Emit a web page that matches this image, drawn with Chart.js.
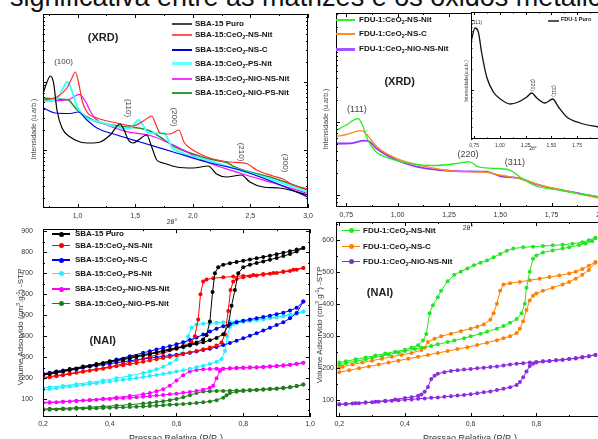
<!DOCTYPE html>
<html lang="pt">
<head>
<meta charset="utf-8">
<title>XRD e NAI</title>
<script src="https://cdn.jsdelivr.net/npm/chart.js@4.4.1/dist/chart.umd.min.js"></script>
<style>
  html, body { margin: 0; padding: 0; background: #fff; overflow: hidden; }
  #quadro { position: relative; width: 598px; height: 439px; overflow: hidden; background: #fff;
            font-family: "Liberation Sans", Arial, sans-serif; color: #222; }
  #quadro canvas { position: absolute; }
  .txt { position: absolute; white-space: nowrap; line-height: 1; }
  .rot { transform: translate(-50%, -50%) rotate(-90deg); }
  .cen { transform: translate(-50%, 0); }
  .leg { position: absolute; font-weight: bold; font-size: 8px; white-space: nowrap; line-height: 1; color: #111; }
  sub { font-size: 5px; vertical-align: -2px; line-height: 0; }
  sup { font-size: 5px; vertical-align: 3px; line-height: 0; }
</style>
</head>
<body>
<div id="quadro">
  <div class="txt" style="left:10px; top:-16px; font-size:27px; color:#111;">significativa entre as matrizes e os óxidos metálicos</div>
  <canvas id="xrdSba" width="322" height="230" style="left:0;top:0"></canvas>
  <canvas id="xrdFdu" width="320" height="230" style="left:300px;top:0"></canvas>
  <canvas id="naiSba" width="322" height="224" style="left:0;top:215px"></canvas>
  <canvas id="naiFdu" width="320" height="224" style="left:300px;top:215px"></canvas>
  <canvas id="inset" width="180" height="160" style="left:440px;top:0"></canvas>

  <div class="txt rot" style="left:33px; top:129px; font-size:7px; color:#444;">Intensidade (u.arb.)</div>
  <div class="txt rot" style="left:325px; top:119px; font-size:7px; color:#444;">Intensidade (u.arb.)</div>
  <div class="txt rot" style="left:466px; top:81px; font-size:5px; color:#444;">Intensidade(u.a.b.)</div>
  <div class="txt rot" style="left:21px; top:327px; font-size:8px; color:#333;">Volume Adsorvido (cm<sup>3</sup>.g<sup>-1</sup>) -STP</div>
  <div class="txt rot" style="left:320px; top:325px; font-size:8px; color:#333;">Volume Adsorvido (cm<sup>3</sup>.g<sup>-1</sup>) -STP</div>
  <div class="txt cen" style="left:176px; top:434px; font-size:9px; color:#333;">Pressao Relativa (P/P<sub>0</sub>)</div>
  <div class="txt cen" style="left:470px; top:434px; font-size:9px; color:#333;">Pressao Relativa (P/P<sub>0</sub>)</div>
  <div class="txt cen" style="left:172px; top:218px; font-size:7px; color:#333;">2θ°</div>
  <div class="txt cen" style="left:468px; top:224px; font-size:7px; color:#333;">2θ°</div>
  <div class="txt cen" style="left:533px; top:146px; font-size:5px; color:#333;">2θ°</div>
</div>

<script>
// ================= DADOS =================

const nomesSba = ["SBA-15 Puro", "SBA-15:CeO2-NS-Nit", "SBA-15:CeO2-NS-C",
                  "SBA-15:CeO2-PS-Nit", "SBA-15:CeO2-NiO-NS-Nit", "SBA-15:CeO2-NiO-PS-Nit"];
const nomesFdu = ["FDU-1:CeO2-NS-Nit", "FDU-1:CeO2-NS-C", "FDU-1:CeO2-NiO-NS-Nit"];
const nomeInset = "FDU-1 Puro";

// XRD: [2θ, intensidade (u.arb.)]
const xrdSbaPuro = [[0.705,116],[0.735,126],[0.763,132],[0.792,125],[0.821,98],[0.865,80],[0.936,71],[1.023,66],
  [1.110,65],[1.196,66],[1.283,73],[1.369,84],[1.404,78],[1.441,68],[1.484,65],[1.528,68],[1.600,73],[1.644,61],
  [1.687,48],[1.744,45],[1.860,41],[2.004,40],[2.134,42],[2.206,34],[2.293,31],[2.423,33],[2.495,26],[2.610,21],
  [2.754,20],[3.000,13]];
const xrdSbaNsNit = [[0.705,108],[0.821,111],[0.908,120],[0.951,130],[0.980,136],[1.008,126],[1.038,108],[1.081,96],
  [1.168,90],[1.341,85],[1.484,82],[1.571,87],[1.644,92],[1.681,83],[1.716,75],[1.802,74],[1.880,78],[1.923,66],
  [2.001,58],[2.122,51],[2.322,46],[2.466,44.5],[2.553,38],[2.697,32],[2.783,29],[2.870,23],[3.000,19]];
const xrdSbaNsC = [[0.705,100],[0.807,95],[0.936,94.5],[1.006,96],[1.081,88],[1.168,80],[1.341,73],[1.542,66],
  [1.831,56],[2.120,46],[2.408,38],[2.697,26],[3.000,11]];
const xrdSbaPsNit = [[0.705,107],[0.821,109],[0.867,118],[0.908,126],[0.928,124],[0.954,116],[0.994,102],[1.081,90],
  [1.196,86],[1.341,81],[1.456,79.5],[1.499,85],[1.528,88],[1.571,82],[1.614,75],[1.716,74.7],[1.750,74.7],
  [1.817,61],[1.917,54.7],[2.120,48],[2.408,38],[2.697,28],[3.000,16]];
const xrdSbaNiONs = [[0.705,107],[0.850,107.5],[0.936,109],[0.980,112],[1.014,113.7],[1.066,107],[1.110,97],
  [1.153,89.5],[1.254,83],[1.427,76.3],[1.629,72.5],[1.831,63],[2.120,46],[2.408,35],[2.697,25],[3.000,14.7]];
const xrdSbaNiOPs = [[0.705,110],[0.850,108.7],[0.922,108],[0.954,104],[0.997,98],[1.084,91],[1.168,86.3],
  [1.398,81.3],[1.542,79.7],[1.629,77],[1.716,71],[1.831,62],[2.120,49.7],[2.304,45],[2.365,41],[2.697,30],[3.000,18]];

const xrdFduNsNit = [[0.698,76.3],[0.750,82],[0.807,88.5],[0.831,81],[0.855,67],[0.896,55],[0.961,48.7],[1.059,43.7],
  [1.172,41.5],[1.270,43],[1.335,45],[1.351,45.2],[1.390,40.3],[1.465,38.7],[1.537,37.5],[1.563,35],[1.610,28],
  [1.673,21],[1.790,16.7],[1.888,13],[2.000,10]];
const xrdFduNsC = [[0.698,70.3],[0.750,72.5],[0.823,76.3],[0.848,73],[0.872,67],[0.903,59.5],[0.994,48.7],
  [1.156,39.7],[1.319,35.3],[1.416,35],[1.498,32],[1.611,27.5],[1.709,21],[1.839,15.3],[2.000,8]];
const xrdFduNiONs = [[0.698,63.5],[0.766,63.7],[0.839,66.3],[0.864,65.3],[0.896,58.7],[0.994,47],[1.091,40.3],
  [1.205,37],[1.319,35.7],[1.433,35.3],[1.498,31],[1.595,28.7],[1.676,22.7],[1.839,15.3],[2.000,9]];
const xrdFduPuro = [[0.720,97],[0.759,111],[0.791,107],[0.824,86],[0.872,62],[0.937,47],[1.018,39],[1.099,35],
  [1.179,37],[1.261,42],[1.309,46],[1.358,41],[1.438,36],[1.513,40],[1.568,32],[1.649,22],[1.778,16],[1.953,12],[2.000,11]];

// NAI: [P/P0, volume adsorvido (cm3/g STP)] — adsorção e dessorção
const naiSbaPuroAds = [[0.20,215],[0.22,221],[0.24,227],[0.26,234],[0.28,240],[0.30,246],[0.32,252],[0.34,258],
  [0.36,264],[0.38,270],[0.40,277],[0.42,283],[0.44,289],[0.46,295],[0.48,302],[0.50,308],[0.52,314],[0.54,321],
  [0.56,328],[0.58,335],[0.60,342],[0.62,349],[0.64,356],[0.66,364],[0.68,372],[0.70,381],[0.72,392],[0.74,410],
  [0.755,450],[0.765,545],[0.775,620],[0.785,700],[0.80,728],[0.82,740],[0.84,748],[0.86,756],[0.88,764],[0.90,772],
  [0.92,781],[0.94,791],[0.96,803],[0.98,820]];
const naiSbaPuroDes = [[0.98,820],[0.96,812],[0.94,804],[0.92,797],[0.90,790],[0.88,783],[0.86,777],[0.84,771],
  [0.82,765],[0.80,759],[0.78,753],[0.76,747],[0.74,740],[0.725,728],[0.715,700],[0.708,610],[0.70,470],[0.69,405],
  [0.68,385],[0.66,370],[0.64,360],[0.62,352],[0.60,346],[0.56,332],[0.52,318],[0.48,306],[0.44,293],[0.40,281],
  [0.36,268],[0.32,256],[0.28,244],[0.24,231],[0.20,219]];
const naiSbaNsNitAds = [[0.20,200],[0.22,205],[0.24,210],[0.26,215],[0.28,220],[0.30,226],[0.32,231],[0.34,236],
  [0.36,241],[0.38,246],[0.40,252],[0.42,257],[0.44,262],[0.46,268],[0.48,273],[0.50,279],[0.52,285],[0.54,291],
  [0.56,297],[0.58,303],[0.60,309],[0.62,316],[0.64,323],[0.66,330],[0.68,338],[0.70,346],[0.72,356],[0.735,370],
  [0.745,410],[0.755,520],[0.762,620],[0.77,660],[0.78,672],[0.80,680],[0.82,685],[0.84,689],[0.86,693],[0.88,697],
  [0.90,701],[0.92,705],[0.94,710],[0.96,716],[0.98,725]];
const naiSbaNsNitDes = [[0.98,725],[0.95,716],[0.92,708],[0.89,701],[0.86,696],[0.83,691],[0.80,687],[0.77,684],
  [0.74,680],[0.71,676],[0.69,670],[0.68,660],[0.672,600],[0.665,480],[0.655,400],[0.645,372],[0.62,352],[0.60,340],
  [0.56,320],[0.52,302],[0.48,284],[0.44,268],[0.40,255],[0.36,243],[0.32,233],[0.28,223],[0.24,213],[0.20,203]];
const naiSbaNsCAds = [[0.20,222],[0.22,227],[0.24,232],[0.26,237],[0.28,242],[0.30,247],[0.32,252],[0.34,256],
  [0.36,261],[0.38,265],[0.40,270],[0.42,274],[0.44,279],[0.46,283],[0.48,288],[0.50,292],[0.52,296],[0.54,300],
  [0.56,304],[0.58,308],[0.60,312],[0.62,317],[0.64,322],[0.66,328],[0.68,334],[0.70,341],[0.72,349],[0.74,358],
  [0.76,368],[0.78,379],[0.80,390],[0.82,402],[0.84,414],[0.86,427],[0.88,440],[0.90,453],[0.92,467],[0.94,485],
  [0.96,510],[0.98,565]];
const naiSbaNsCDes = [[0.98,565],[0.96,535],[0.94,522],[0.92,512],[0.90,505],[0.88,498],[0.86,492],[0.84,486],
  [0.82,480],[0.80,474],[0.78,467],[0.76,458],[0.74,448],[0.72,436],[0.70,422],[0.68,408],[0.66,394],[0.64,382],
  [0.62,371],[0.60,362],[0.58,353],[0.56,345],[0.54,337],[0.52,329],[0.50,321],[0.46,305],[0.42,289],[0.38,273],
  [0.34,257],[0.30,243],[0.26,231],[0.22,221],[0.20,216]];
const naiSbaPsNitAds = [[0.20,145],[0.22,149],[0.24,153],[0.26,157],[0.28,161],[0.30,165],[0.32,169],[0.34,173],
  [0.36,177],[0.38,181],[0.40,185],[0.42,189],[0.44,193],[0.46,197],[0.48,201],[0.50,206],[0.52,211],[0.54,216],
  [0.56,221],[0.58,226],[0.60,232],[0.62,238],[0.64,245],[0.66,252],[0.68,260],[0.70,268],[0.72,278],[0.735,292],
  [0.745,330],[0.752,400],[0.76,445],[0.77,458],[0.78,463],[0.80,468],[0.82,472],[0.84,476],[0.86,480],[0.88,485],
  [0.90,489],[0.92,494],[0.94,500],[0.96,507],[0.98,516]];
const naiSbaPsNitDes = [[0.98,518],[0.96,510],[0.94,503],[0.92,497],[0.90,492],[0.88,488],[0.86,484],[0.84,480],
  [0.82,477],[0.80,474],[0.78,471],[0.76,468],[0.74,466],[0.72,464],[0.70,462],[0.68,460],[0.66,456],[0.645,440],
  [0.635,400],[0.625,350],[0.615,315],[0.60,290],[0.58,270],[0.56,255],[0.54,243],[0.52,233],[0.50,225],[0.46,212],
  [0.42,200],[0.38,190],[0.34,180],[0.30,172],[0.26,164],[0.22,158],[0.20,155]];
const naiSbaNiONsAds = [[0.20,82],[0.22,84],[0.24,86],[0.26,88],[0.28,90],[0.30,92],[0.32,94],[0.34,96],[0.36,98],
  [0.38,100],[0.40,102],[0.42,104],[0.44,106],[0.46,108],[0.48,110],[0.50,112],[0.52,115],[0.54,118],[0.56,121],
  [0.58,124],[0.60,127],[0.62,131],[0.64,135],[0.66,140],[0.68,146],[0.70,155],[0.71,165],[0.72,200],[0.73,235],
  [0.74,245],[0.76,248],[0.78,250],[0.80,251],[0.82,252],[0.84,253],[0.86,255],[0.88,257],[0.90,259],[0.92,262],
  [0.94,265],[0.96,269],[0.98,274]];
const naiSbaNiONsDes = [[0.98,274],[0.96,268],[0.94,264],[0.92,260],[0.90,257],[0.88,255],[0.86,253],[0.84,251],
  [0.82,250],[0.80,249],[0.78,248],[0.76,247],[0.74,246],[0.72,245],[0.70,244],[0.68,243],[0.66,240],[0.64,232],
  [0.62,215],[0.60,190],[0.58,165],[0.56,148],[0.54,138],[0.52,130],[0.50,124],[0.46,116],[0.42,109],[0.38,103],
  [0.34,97],[0.30,93],[0.26,89],[0.22,86],[0.20,85]];
const naiSbaNiOPsAds = [[0.20,50],[0.22,51],[0.24,52],[0.26,53],[0.28,54],[0.30,55],[0.32,56],[0.34,57],[0.36,58],
  [0.38,59],[0.40,60],[0.42,61],[0.44,62],[0.46,63],[0.48,65],[0.50,66],[0.52,68],[0.54,70],[0.56,72],[0.58,74],
  [0.60,76],[0.62,78],[0.64,80],[0.66,83],[0.68,86],[0.70,90],[0.72,96],[0.74,108],[0.75,120],[0.76,130],[0.78,136],
  [0.80,140],[0.82,142],[0.84,144],[0.86,146],[0.88,148],[0.90,150],[0.92,153],[0.94,157],[0.96,163],[0.98,170]];
const naiSbaNiOPsDes = [[0.98,170],[0.96,163],[0.94,158],[0.92,155],[0.90,152],[0.88,150],[0.86,148],[0.84,146],
  [0.82,144],[0.80,143],[0.78,142],[0.76,141],[0.74,140],[0.72,140],[0.70,139],[0.68,137],[0.66,130],[0.64,120],
  [0.62,110],[0.60,102],[0.58,96],[0.56,91],[0.54,87],[0.52,83],[0.50,80],[0.46,75],[0.42,70],[0.38,66],[0.34,63],
  [0.30,60],[0.26,57],[0.22,55],[0.20,54]];

const naiFduNsNitAds = [[0.20,210],[0.22,214],[0.25,220],[0.28,226],[0.30,230],[0.33,236],[0.35,241],[0.38,247],
  [0.40,252],[0.43,258],[0.45,262],[0.48,268],[0.50,273],[0.53,280],[0.55,285],[0.58,292],[0.60,298],[0.63,306],
  [0.65,312],[0.68,322],[0.70,330],[0.72,340],[0.74,352],[0.755,370],[0.765,400],[0.77,450],[0.78,500],[0.79,540],
  [0.80,550],[0.82,560],[0.85,566],[0.88,572],[0.90,576],[0.93,583],[0.95,588],[0.97,595],[0.98,605]];
const naiFduNsNitDes = [[0.98,605],[0.96,598],[0.94,592],[0.91,587],[0.88,584],[0.85,582],[0.82,580],[0.79,578],
  [0.76,576],[0.73,572],[0.71,565],[0.69,555],[0.67,545],[0.65,535],[0.63,528],[0.61,520],[0.59,510],[0.57,500],
  [0.55,490],[0.53,470],[0.51,440],[0.50,420],[0.485,395],[0.475,370],[0.465,305],[0.455,285],[0.44,270],[0.42,262],
  [0.40,256],[0.37,250],[0.34,244],[0.31,238],[0.28,232],[0.25,226],[0.22,220],[0.20,216]];
const naiFduNsCAds = [[0.20,186],[0.23,192],[0.26,198],[0.29,204],[0.32,210],[0.35,216],[0.38,222],[0.41,228],
  [0.44,234],[0.47,240],[0.50,246],[0.53,252],[0.56,258],[0.59,264],[0.62,271],[0.65,278],[0.68,286],[0.70,292],
  [0.72,298],[0.74,308],[0.75,322],[0.76,345],[0.77,380],[0.78,410],[0.79,425],[0.80,432],[0.82,440],[0.85,450],
  [0.88,460],[0.90,468],[0.92,478],[0.94,490],[0.96,505],[0.98,528]];
const naiFduNsCDes = [[0.98,530],[0.96,518],[0.94,508],[0.92,500],[0.90,494],[0.87,488],[0.84,483],[0.81,478],
  [0.78,473],[0.75,468],[0.72,464],[0.70,460],[0.69,440],[0.68,400],[0.67,370],[0.66,350],[0.64,335],[0.62,328],
  [0.60,322],[0.57,314],[0.54,306],[0.51,298],[0.49,290],[0.47,280],[0.46,262],[0.45,255],[0.42,246],[0.39,240],
  [0.36,234],[0.33,228],[0.30,222],[0.27,216],[0.24,210],[0.21,203],[0.20,200]];
const naiFduNiONsAds = [[0.20,85],[0.22,86],[0.24,88],[0.26,89],[0.28,91],[0.30,92],[0.32,94],[0.34,95],[0.36,97],
  [0.38,98],[0.40,100],[0.42,101],[0.44,103],[0.46,104],[0.48,106],[0.50,107],[0.52,109],[0.54,111],[0.56,113],
  [0.58,115],[0.60,117],[0.62,120],[0.64,123],[0.66,126],[0.68,130],[0.70,134],[0.72,139],[0.74,146],[0.75,155],
  [0.76,170],[0.77,188],[0.78,205],[0.79,212],[0.80,216],[0.82,219],[0.84,221],[0.86,223],[0.88,225],[0.90,227],
  [0.92,230],[0.94,233],[0.96,236],[0.98,240]];
const naiFduNiONsDes = [[0.98,240],[0.96,236],[0.94,232],[0.92,229],[0.90,227],[0.88,225],[0.86,223],[0.84,221],
  [0.82,220],[0.80,218],[0.78,216],[0.76,214],[0.74,212],[0.72,210],[0.70,207],[0.68,204],[0.66,202],[0.64,200],
  [0.62,198],[0.60,196],[0.58,194],[0.56,192],[0.54,190],[0.52,186],[0.50,181],[0.49,175],[0.48,165],[0.47,140],
  [0.46,125],[0.45,116],[0.44,112],[0.42,108],[0.40,105],[0.37,101],[0.34,97],[0.31,94],[0.28,91],[0.25,89],
  [0.22,87],[0.20,86]];

// marcas dos eixos
const ticksXrdSbaX = [1.0, 1.5, 2.0, 2.5, 3.0];
const ticksXrdFduX = [0.75, 1.0, 1.25, 1.5, 1.75, 2.0];
const ticksNaiX = [0.2, 0.4, 0.6, 0.8, 1.0];
const ticksNaiSbaY = [100, 200, 300, 400, 500, 600, 700, 800, 900];
const ticksNaiFduY = [100, 200, 300, 400, 500, 600];

// ================= ESTILO =================

Chart.defaults.font.family = "'Liberation Sans', Arial, sans-serif";
Chart.defaults.color = "#333";

const coresXrdSba = ["#000000", "#ff2a2a", "#0000e6", "#40ffff", "#ff00ff", "#2e8b2e"];
const largXrdSba = [1.2, 1.2, 1.2, 2, 1.2, 1.5];
const coresXrdFdu = ["#22ee22", "#ff8c1a", "#9933ff"];
const largXrdFdu = [1.3, 1.3, 1.8];
const coresNaiSba = ["#000000", "#ff0000", "#0000ff", "#22eeff", "#ff00ff", "#1f7f1f"];
const coresNaiFdu = ["#22e622", "#ff8000", "#8a2be2"];

const virgula = (casas) => (v) => Number(v).toFixed(casas).replace(".", ",");
const pts = (arr) => arr.map(([x, y]) => ({ x, y }));
const meios = (maj) => maj.slice(0, -1).map((v, i) => (v + maj[i + 1]) / 2)
  .concat([maj[0] - (maj[1] - maj[0]) / 2, maj[maj.length - 1] + (maj[1] - maj[0]) / 2]);
const menoresLog = (maj, dec) => maj.concat([maj[maj.length - 1] + dec]).flatMap((m) =>
  [2, 3, 4, 5, 6, 7, 8, 9].map((k) => m - dec + dec * Math.log10(k)));

// moldura com marcas para dentro + anotações
const moldura = {
  id: "moldura",
  beforeDatasetsDraw(chart, args, o) {
    if (!o.fundo) return;
    const a = chart.chartArea;
    chart.ctx.save();
    chart.ctx.fillStyle = "#fff";
    chart.ctx.fillRect(a.left, a.top, a.width, a.height);
    chart.ctx.restore();
  },
  afterDatasetsDraw(chart, args, o) {
    const { ctx, chartArea: a, scales } = chart;
    const sx = scales.x, sy = scales.y;
    ctx.save();
    ctx.strokeStyle = "#000";
    ctx.lineWidth = 1;
    ctx.strokeRect(Math.round(a.left) + 0.5, Math.round(a.top) + 0.5, Math.round(a.width) - 1, Math.round(a.height) - 1);
    ctx.beginPath();
    const marcaX = (vals, len) => vals.forEach((v) => {
      if (v < sx.min || v > sx.max) return;
      const p = Math.round(sx.getPixelForValue(v)) + 0.5;
      ctx.moveTo(p, a.bottom); ctx.lineTo(p, a.bottom - len);
      ctx.moveTo(p, a.top); ctx.lineTo(p, a.top + len);
    });
    const marcaY = (vals, len) => vals.forEach((v) => {
      if (v < sy.min || v > sy.max) return;
      const p = Math.round(sy.getPixelForValue(v)) + 0.5;
      ctx.moveTo(a.left, p); ctx.lineTo(a.left + len, p);
      ctx.moveTo(a.right, p); ctx.lineTo(a.right - len, p);
    });
    marcaX(o.xMaj || [], o.tam || 4); marcaX(o.xMin || [], (o.tam || 4) / 2);
    marcaY(o.yMaj || [], o.tam || 4); marcaY(o.yMin || [], (o.tam || 4) / 2);
    ctx.stroke();
    (o.notas || []).forEach((n) => {
      ctx.save();
      ctx.translate(sx.getPixelForValue(n.x), sy.getPixelForValue(n.y));
      if (n.rot) ctx.rotate(Math.PI / 2);
      ctx.font = n.fonte;
      ctx.fillStyle = n.cor || "#444";
      ctx.textAlign = "center";
      ctx.textBaseline = "middle";
      ctx.fillText(n.t, 0, 0);
      ctx.restore();
    });
    ctx.restore();
  },
};

function eixo(e, qual) {
  return {
    type: "linear",
    min: e.min,
    max: e.max,
    grid: { display: false, drawTicks: false },
    border: { display: false },
    ticks: {
      display: !!e.fmt,
      padding: e.padding || 3,
      color: "#333",
      font: { size: e.fonte || 7 },
      callback: e.fmt || (() => ""),
    },
    afterBuildTicks: (s) => { s.ticks = e.ticks.map((value) => ({ value })); },
    afterFit: (s) => { if (qual === "x") s.height = e.tam; else s.width = e.tam; },
  };
}

function grafico(id, datasets, o) {
  return new Chart(document.getElementById(id), {
    type: "line",
    data: { datasets },
    options: {
      responsive: false,
      animation: false,
      devicePixelRatio: 1,
      layout: { padding: o.pad },
      plugins: { legend: { display: false }, tooltip: { enabled: false }, moldura: o.moldura },
      scales: { x: eixo(o.x, "x"), y: eixo(o.y, "y") },
    },
    plugins: [moldura],
  });
}

function serieXrd(label, dados, cor, larg) {
  return { label, data: pts(dados), borderColor: cor, borderWidth: larg, pointRadius: 0,
           cubicInterpolationMode: "monotone", fill: false };
}

function serieNai(label, dados, cor) {
  return { label, data: pts(dados), borderColor: cor, backgroundColor: cor, borderWidth: 1,
           pointRadius: 2, pointBorderWidth: 0, pointStyle: "circle", tension: 0, fill: false };
}

// ================= GRÁFICOS =================

const fonteNota = "8px 'Liberation Sans', Arial, sans-serif";
const fonteTitulo = "bold 11px 'Liberation Sans', Arial, sans-serif";

grafico("xrdSba",
  [xrdSbaPuro, xrdSbaNsNit, xrdSbaNsC, xrdSbaPsNit, xrdSbaNiONs, xrdSbaNiOPs]
    .map((d, i) => serieXrd(nomesSba[i], d, coresXrdSba[i], largXrdSba[i])), {
  pad: { left: 0, top: 14, right: 14, bottom: 0 },
  x: { min: 0.7, max: 3.0, ticks: ticksXrdSbaX, fmt: virgula(1), tam: 22, padding: 4 },
  y: { min: 0, max: 194, ticks: [58, 126, 194], tam: 43 },
  moldura: {
    xMaj: ticksXrdSbaX, xMin: meios(ticksXrdSbaX), yMaj: [-10, 58, 126, 194], yMin: menoresLog([-10, 58, 126], 68),
    notas: [
      { t: "(XRD)", x: 1.221, y: 170, fonte: fonteTitulo, cor: "#222" },
      { t: "(100)", x: 0.878, y: 146, fonte: fonteNota },
      { t: "(110)", x: 1.441, y: 100, fonte: fonteNota, rot: true },
      { t: "(200)", x: 1.837, y: 91, fonte: fonteNota, rot: true },
      { t: "(210)", x: 2.423, y: 56, fonte: fonteNota, rot: true },
      { t: "(300)", x: 2.798, y: 45, fonte: fonteNota, rot: true },
    ],
  },
});

grafico("xrdFdu",
  [xrdFduNsNit, xrdFduNsC, xrdFduNiONs]
    .map((d, i) => serieXrd(nomesFdu[i], d, coresXrdFdu[i], largXrdFdu[i])), {
  pad: { left: 0, top: 13, right: 17, bottom: 0 },
  x: { min: 0.7, max: 2.0, ticks: ticksXrdFduX, fmt: virgula(2), tam: 23, padding: 4 },
  y: { min: 0, max: 194, ticks: [12, 85, 158], tam: 36 },
  moldura: {
    xMaj: ticksXrdFduX, xMin: meios(ticksXrdFduX), yMaj: [12, 85, 158], yMin: menoresLog([12, 85, 158], 73),
    notas: [
      { t: "(XRD)", x: 1.010, y: 125, fonte: fonteTitulo, cor: "#222" },
      { t: "(111)", x: 0.802, y: 97, fonte: "9px 'Liberation Sans', Arial, sans-serif" },
      { t: "(220)", x: 1.343, y: 52.7, fonte: "9px 'Liberation Sans', Arial, sans-serif" },
      { t: "(311)", x: 1.571, y: 44.7, fonte: "9px 'Liberation Sans', Arial, sans-serif" },
    ],
  },
});

grafico("naiSba",
  [[naiSbaPuroAds, naiSbaPuroDes], [naiSbaNsNitAds, naiSbaNsNitDes], [naiSbaNsCAds, naiSbaNsCDes],
   [naiSbaPsNitAds, naiSbaPsNitDes], [naiSbaNiONsAds, naiSbaNiONsDes], [naiSbaNiOPsAds, naiSbaNiOPsDes]]
    .flatMap((par, i) => par.map((d) => serieNai(nomesSba[i], d, coresNaiSba[i]))), {
  pad: { left: 0, top: 7, right: 12, bottom: 0 },
  x: { min: 0.2, max: 1.0, ticks: ticksNaiX, fmt: virgula(1), tam: 22, padding: 3 },
  y: { min: 16, max: 909, ticks: ticksNaiSbaY, fmt: (v) => String(v), tam: 43, padding: 10 },
  moldura: {
    xMaj: ticksNaiX, xMin: meios(ticksNaiX), yMaj: ticksNaiSbaY, yMin: meios(ticksNaiSbaY),
    notas: [{ t: "(NAI)", x: 0.379, y: 378, fonte: fonteTitulo, cor: "#222" }],
  },
});

grafico("naiFdu",
  [[naiFduNsNitAds, naiFduNsNitDes], [naiFduNsCAds, naiFduNsCDes], [naiFduNiONsAds, naiFduNiONsDes]]
    .flatMap((par, i) => par.map((d) => serieNai(nomesFdu[i], d, coresNaiFdu[i]))), {
  pad: { left: 0, top: 7, right: 18, bottom: 0 },
  x: { min: 0.19, max: 1.0, ticks: ticksNaiX, fmt: virgula(1), tam: 22, padding: 3 },
  y: { min: 46, max: 655, ticks: ticksNaiFduY, fmt: (v) => String(v), tam: 36, padding: 2 },
  moldura: {
    xMaj: ticksNaiX, xMin: meios(ticksNaiX), yMaj: ticksNaiFduY, yMin: meios(ticksNaiFduY),
    notas: [{ t: "(NAI)", x: 0.324, y: 433, fonte: fonteTitulo, cor: "#222" }],
  },
});

grafico("inset", [serieXrd(nomeInset, xrdFduPuro, "#111", 1.3)], {
  pad: { left: 0, top: 12, right: 17, bottom: 0 },
  x: { min: 0.72, max: 2.0, ticks: ticksXrdFduX, fmt: virgula(2), tam: 21, padding: 4, fonte: 5 },
  y: { min: 0, max: 127, ticks: [49, 119], tam: 31 },
  moldura: {
    fundo: true, tam: 3,
    xMaj: ticksXrdFduX, xMin: meios(ticksXrdFduX), yMaj: [49, 119], yMin: menoresLog([49], 70),
    notas: [
      { t: "(111)", x: 0.775, y: 116, fonte: "5px 'Liberation Sans', Arial, sans-serif" },
      { t: "(220)", x: 1.315, y: 54, fonte: "5px 'Liberation Sans', Arial, sans-serif", rot: true },
      { t: "(311)", x: 1.519, y: 48, fonte: "5px 'Liberation Sans', Arial, sans-serif", rot: true },
    ],
  },
});

// ================= LEGENDAS (HTML) =================

const quadro = document.getElementById("quadro");

function caixa(estilo, html) {
  const d = document.createElement("div");
  d.style.cssText = "position:absolute;" + estilo;
  if (html) { d.className = "leg"; d.innerHTML = html; }
  quadro.appendChild(d);
}

function legenda(nomes, cores, larguras, linhas, x0, x1, xt, ponto, fonte) {
  nomes.forEach((n, i) => {
    const y = linhas[i], w = larguras[i];
    caixa(`left:${x0}px;top:${y - w / 2}px;width:${x1 - x0}px;height:${w}px;background:${cores[i]};`);
    if (ponto) {
      const cx = (x0 + x1) / 2;
      caixa(`left:${cx - 2.5}px;top:${y - 2.5}px;width:5px;height:5px;border-radius:50%;background:${cores[i]};`);
    }
    caixa(`left:${xt}px;top:${y - 4}px;font-size:${fonte || 8}px;`, n.replace("CeO2", "CeO<sub>2</sub>"));
  });
}

legenda(nomesSba, ["#444", "#ff5555", "#0000dd", "#66ffff", "#ff33ff", "#339933"], [1.5, 1.5, 1.2, 3, 1.2, 2],
  [24, 35, 50, 63.5, 79, 93], 172, 192, 195, false);
legenda(nomesFdu, ["#33ee33", "#ff8c1a", "#a055ff"], [1.5, 1.5, 3], [20, 34, 49], 336, 355, 359, false);
legenda(nomesSba, coresNaiSba, [1.5, 1.5, 1.5, 1.5, 1.5, 1.5], [234, 245.5, 260, 273.5, 289, 303.5], 52, 70, 75, true);
legenda(nomesFdu, coresNaiFdu, [1.5, 1.5, 1.5], [230.7, 246.7, 261.7], 342, 360, 363, true);
legenda([nomeInset], ["#555"], [1.5], [21], 548, 559, 561, false, 5.5);
</script>
</body>
</html>
